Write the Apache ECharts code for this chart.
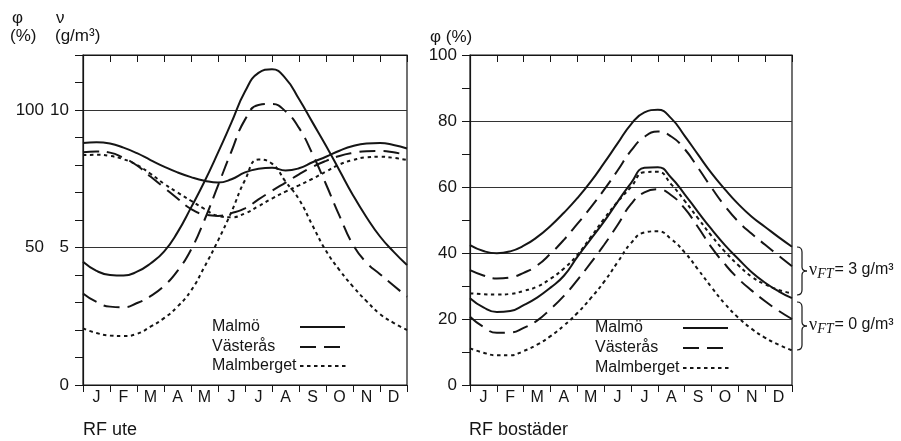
<!DOCTYPE html>
<html>
<head>
<meta charset="UTF-8">
<title>RF ute / RF bostäder</title>
<script type="text/javascript" src="https://cdn.jsdelivr.net/npm/echarts@6/dist/echarts.min.js"></script>
<style>
  html, body { margin: 0; padding: 0; background: #fff; }
</style>
</head>
<body>
<div id="main" style="width:901px;height:441px"></div>

<script type="text/javascript">
  // month labels and the x positions (in months) the curves were read at
  var months = ['J', 'F', 'M', 'A', 'M', 'J', 'J', 'A', 'S', 'O', 'N', 'D'];
  var monthPos = [0, 0.5, 1, 1.5, 2, 2.5, 3, 3.5, 4, 4.5, 5, 5.5, 6, 6.5, 7, 7.5, 8, 8.5, 9, 9.5, 10, 10.5, 11, 11.5, 12];
  var cities = ['Malmö', 'Västerås', 'Malmberget'];

  // RF ute, on the φ scale (φ % = 10 * ν g/m3)
  var uteMalmoRH = [88.0, 88.3, 87.8, 86.3, 84.3, 81.8, 79.4, 77.3, 75.6, 74.3, 73.6, 74.8, 77.3, 78.6, 79.0, 78.0, 78.8, 81.0, 83.0, 85.2, 86.9, 87.8, 88.0, 87.3, 86.0];
  var uteMalmoV = [44.8, 41.5, 40.0, 39.8, 41.2, 44.2, 48.5, 55.5, 64.5, 74.0, 84.5, 95.5, 106.7, 113.5, 114.8, 111.5, 104.0, 95.5, 87.0, 78.0, 69.0, 61.0, 54.0, 48.5, 43.6];
  var uteVastRH = [84.6, 84.9, 84.5, 82.6, 79.8, 75.8, 71.8, 67.8, 64.0, 62.0, 61.5, 62.5, 64.2, 67.5, 70.6, 73.6, 76.6, 79.3, 81.5, 83.3, 84.4, 85.0, 85.1, 84.6, 83.6];
  var uteVastV = [33.3, 30.2, 28.5, 28.3, 29.8, 32.3, 36.0, 41.5, 49.2, 60.0, 72.5, 85.0, 96.5, 101.8, 102.2, 99.5, 93.5, 84.0, 73.0, 61.5, 51.0, 44.5, 40.3, 36.2, 32.1];
  var uteMalmbRH = [83.6, 83.7, 83.3, 82.1, 80.0, 76.8, 73.2, 70.0, 67.0, 64.0, 61.5, 61.0, 62.4, 65.0, 67.8, 70.3, 72.6, 75.0, 77.6, 80.2, 81.8, 82.8, 83.0, 82.6, 81.8];
  var uteMalmbV = [20.6, 18.9, 18.0, 17.8, 18.6, 21.2, 24.3, 28.5, 34.3, 43.0, 52.5, 63.0, 74.5, 82.0, 80.5, 74.0, 67.5, 58.0, 48.8, 41.8, 35.8, 30.5, 25.8, 22.6, 20.0];

  // RF bostäder: upper curve vFT = 3 g/m3, lower curve vFT = 0 g/m3
  var bosMalmoHi = [42.4, 40.6, 39.9, 40.5, 42.2, 44.8, 48.2, 52.2, 56.6, 61.6, 67.3, 73.2, 79.0, 82.6, 83.4, 80.8, 75.5, 69.8, 64.2, 59.3, 54.8, 51.0, 47.9, 44.8, 41.9];
  var bosMalmoLo = [26.3, 23.5, 22.1, 22.4, 24.2, 26.5, 29.5, 33.1, 38.8, 44.2, 49.6, 55.5, 61.2, 65.8, 66.0, 62.8, 57.8, 52.4, 47.2, 42.4, 38.2, 34.2, 31.0, 28.4, 26.3];
  var bosVastHi = [34.8, 33.2, 32.3, 32.6, 34.0, 36.2, 39.8, 44.0, 48.8, 53.8, 59.2, 65.0, 71.0, 75.2, 76.8, 75.3, 71.5, 65.8, 59.8, 54.2, 49.5, 45.8, 42.5, 39.2, 36.0];
  var bosVastLo = [20.7, 17.6, 15.8, 15.9, 17.3, 19.5, 23.0, 27.0, 31.8, 37.0, 42.5, 48.5, 54.8, 58.4, 59.3, 57.5, 53.5, 47.8, 41.7, 36.6, 32.2, 28.6, 25.4, 22.5, 20.0];
  var bosMalmbHi = [27.8, 27.5, 27.4, 27.6, 28.5, 29.8, 32.2, 35.3, 39.4, 44.8, 50.4, 55.5, 60.0, 64.5, 64.6, 60.8, 55.8, 50.5, 45.2, 40.4, 36.3, 32.8, 30.5, 28.8, 27.8];
  var bosMalmbLo = [11.1, 9.8, 9.0, 9.0, 10.3, 12.2, 14.8, 18.0, 21.8, 26.3, 31.3, 37.2, 43.0, 46.2, 46.6, 44.2, 40.2, 35.0, 29.6, 24.6, 20.4, 17.0, 14.3, 12.2, 10.5];

  var ink = '#151515';
  var font = 'Liberation Sans, Arial, sans-serif';
  var serif = 'Liberation Serif, Times New Roman, serif';
  var dashes = ['solid', [16, 8], [3.5, 3.5]];

  var mychart = echarts.init(document.getElementById('main'));

  function curve(name, values, dash, xi, yi) {
    var pts = [];
    for (var i = 0; i < values.length; i++) pts.push([monthPos[i], values[i]]);
    return {
      name: name, type: 'line', data: pts,
      xAxisIndex: xi, yAxisIndex: yi,
      symbol: 'none', smooth: 0.5, silent: true,
      lineStyle: { color: ink, width: 2, type: dash, cap: 'butt' }
    };
  }

  function monthAxis(grid) {
    return {
      gridIndex: grid, type: 'category', data: months, position: 'bottom',
      boundaryGap: true,
      axisLine: { lineStyle: { color: ink, width: 1.2 } },
      axisTick: { show: true, inside: false, length: 7, interval: 0, lineStyle: { color: ink } },
      axisLabel: { color: ink, fontSize: 16, fontFamily: font, margin: 5, interval: 0 },
      splitLine: { show: false }
    };
  }
  function topAxis(grid) {
    return {
      gridIndex: grid, type: 'value', min: 0, max: 12, interval: 1, position: 'top',
      axisLine: { lineStyle: { color: ink, width: 1.2 } },
      axisTick: { show: true, inside: true, length: 7, lineStyle: { color: ink } },
      axisLabel: { show: false }, splitLine: { show: false }
    };
  }

  function legendItems(x, lineX, ys) {
    var out = [];
    for (var i = 0; i < cities.length; i++) {
      out.push({
        type: 'text', x: x, y: ys[i], silent: true,
        style: { text: cities[i], font: '16px ' + font, fill: ink, verticalAlign: 'middle' }
      });
      out.push({
        type: 'line', silent: true,
        shape: { x1: lineX, y1: ys[i], x2: lineX + (i === 2 ? 49 : 45), y2: ys[i] },
        style: { stroke: ink, lineWidth: 2, lineDash: i === 0 ? null : dashes[i] }
      });
    }
    return out;
  }

  // curly brace pointing right, built from curves and lines
  function brace(x, y, h) {
    var m = y + h / 2, st = { stroke: ink, lineWidth: 1.2, fill: null };
    function q(x1, y1, cx, cy, x2, y2) {
      return { type: 'bezierCurve', silent: true, shape: { x1: x1, y1: y1, cpx1: cx, cpy1: cy, x2: x2, y2: y2 }, style: st };
    }
    function l(x1, y1, x2, y2) {
      return { type: 'line', silent: true, shape: { x1: x1, y1: y1, x2: x2, y2: y2 }, style: st };
    }
    return [
      q(x, y, x + 5, y, x + 5, y + 5),
      l(x + 5, y + 5, x + 5, m - 4),
      q(x + 5, m - 4, x + 5, m, x + 10, m),
      q(x + 10, m, x + 5, m, x + 5, m + 4),
      l(x + 5, m + 4, x + 5, y + h - 5),
      q(x + 5, y + h - 5, x + 5, y + h, x, y + h)
    ];
  }

  function vftLabel(x, y, val) {
    return {
      type: 'text', x: x, y: y, silent: true,
      style: {
        text: '{n|ν}{s|FT}{t|= ' + val + ' g/m³}',
        fill: ink, verticalAlign: 'middle',
        rich: {
          n: { font: '18px ' + serif, fill: ink },
          s: { font: 'italic 14px ' + serif, fill: ink, padding: [9, 1, 0, 0] },
          t: { font: '16px ' + font, fill: ink }
        }
      }
    };
  }

  function txt(s, x, y, size) {
    return {
      type: 'text', x: x, y: y, silent: true,
      style: { text: s, font: (size || 17) + 'px ' + font, fill: ink, verticalAlign: 'middle' }
    };
  }

  var option = {
    animation: false,
    backgroundColor: '#fff',
    grid: [
      { left: 83, top: 55, width: 324, height: 330, show: true, borderColor: ink, borderWidth: 1.2 },
      { left: 470, top: 55, width: 322, height: 330, show: true, borderColor: ink, borderWidth: 1.2 }
    ],
    xAxis: [
      { gridIndex: 0, type: 'value', min: 0, max: 12, show: false },
      monthAxis(0),
      topAxis(0),
      { gridIndex: 1, type: 'value', min: 0, max: 12, show: false },
      monthAxis(1),
      topAxis(1)
    ],
    yAxis: [
      { // ν (g/m3)
        gridIndex: 0, type: 'value', min: 0, max: 12, interval: 1, position: 'left',
        axisLine: { show: true, lineStyle: { color: ink, width: 1.2 } },
        axisTick: { show: true, inside: false, length: 8, lineStyle: { color: ink } },
        axisLabel: {
          color: ink, fontSize: 17, fontFamily: font, margin: 14,
          formatter: function (v) { return (v === 0 || v === 5 || v === 10) ? String(v) : ''; }
        },
        splitLine: { show: false }
      },
      { // φ (%)
        gridIndex: 0, type: 'value', min: 0, max: 120, interval: 50, position: 'left', offset: 30,
        axisLine: { show: false }, axisTick: { show: false },
        axisLabel: {
          color: ink, fontSize: 17, fontFamily: font, margin: 9,
          formatter: function (v) { return (v === 50 || v === 100) ? String(v) : ''; }
        },
        splitLine: { show: true, lineStyle: { color: '#333', width: 1 } }
      },
      {
        gridIndex: 1, type: 'value', min: 0, max: 100, interval: 10, position: 'left',
        axisLine: { show: true, lineStyle: { color: ink, width: 1.2 } },
        axisTick: { show: true, inside: false, length: 8, lineStyle: { color: ink } },
        axisLabel: { show: false }, splitLine: { show: false }
      },
      {
        gridIndex: 1, type: 'value', min: 0, max: 100, interval: 20, position: 'left',
        axisLine: { show: false }, axisTick: { show: false },
        axisLabel: { color: ink, fontSize: 17, fontFamily: font, margin: 13 },
        splitLine: { show: true, lineStyle: { color: '#333', width: 1 } }
      }
    ],
    series: [
      curve(cities[0], uteMalmoRH, dashes[0], 0, 1),
      curve(cities[0], uteMalmoV, dashes[0], 0, 1),
      curve(cities[1], uteVastRH, dashes[1], 0, 1),
      curve(cities[1], uteVastV, dashes[1], 0, 1),
      curve(cities[2], uteMalmbRH, dashes[2], 0, 1),
      curve(cities[2], uteMalmbV, dashes[2], 0, 1),
      curve(cities[0], bosMalmoHi, dashes[0], 3, 3),
      curve(cities[0], bosMalmoLo, dashes[0], 3, 3),
      curve(cities[1], bosVastHi, dashes[1], 3, 3),
      curve(cities[1], bosVastLo, dashes[1], 3, 3),
      curve(cities[2], bosMalmbHi, dashes[2], 3, 3),
      curve(cities[2], bosMalmbLo, dashes[2], 3, 3)
    ],
    graphic: [
      txt('φ', 12, 18), txt('(%)', 10, 36),
      txt('ν', 56, 18), txt('(g/m³)', 55, 36),
      txt('φ (%)', 430, 37),
      txt('RF ute', 83, 430, 18),
      txt('RF bostäder', 469, 430, 18),
      vftLabel(809, 270, 3), vftLabel(809, 325, 0)
    ].concat(brace(797, 247, 48), brace(797, 302, 48))
     .concat(legendItems(212, 300, [327, 347, 366]))
     .concat(legendItems(595, 683, [328, 348, 368]))
  };

  mychart.setOption(option);
</script>
</body>
</html>
